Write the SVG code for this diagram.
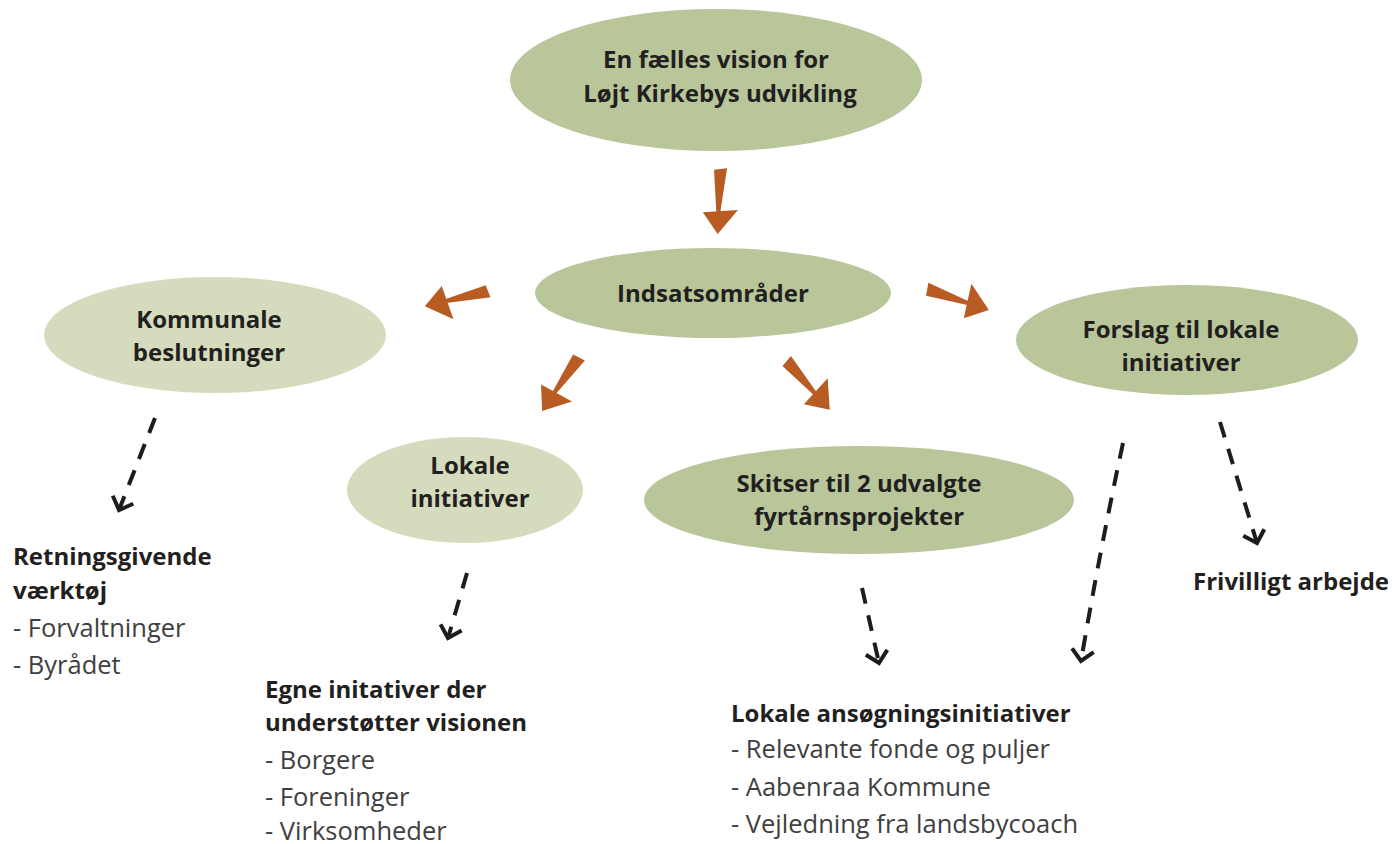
<svg xmlns="http://www.w3.org/2000/svg" width="1396" height="844" viewBox="0 0 1396 844">
<style>
  .dark { fill: #b8c69a; }
  .light { fill: #d5dcbe; }
  .t { font-family: "Open Sans", "Noto Sans", sans-serif; font-size: 24px; fill: #231f20; }
  .b { font-weight: 700; }
  .r { font-weight: 400; fill: #404040; font-size: 25.5px; }
  .c { text-anchor: middle; }
  .orange { fill: #b85c24; }
  .dash { fill: none; stroke: #1e1c1c; stroke-width: 4; stroke-dasharray: 16 12; marker-end: url(#chev); }
</style>
<defs>
  <marker id="chev" markerUnits="userSpaceOnUse" markerWidth="30" markerHeight="30" viewBox="-15 -15 30 30" refX="0" refY="0" orient="auto">
    <path d="M-11,-11 L0,0 L-11,11" fill="none" stroke="#1e1c1c" stroke-width="4"/>
  </marker>
  <path id="oarrow" d="M-6,0 L7,-2 L2.5,42 L-1.5,42 Z M-15,43 L20,39 L1,64 Z"/>
</defs>
<rect width="1396" height="844" fill="#ffffff"/>

<g id="connectors">
  <use href="#oarrow" class="orange" transform="translate(720,170) rotate(3)"/>
  <use href="#oarrow" class="orange" transform="translate(487,291) rotate(77)"/>
  <use href="#oarrow" class="orange" transform="translate(928,290) rotate(-71)"/>
  <use href="#oarrow" class="orange" transform="translate(578,358) rotate(35)"/>
  <use href="#oarrow" class="orange" transform="translate(787,362) rotate(-41)"/>
  <path class="dash" d="M155,418 L119,510"/>
  <path class="dash" d="M467,573 L448,638"/>
  <path class="dash" d="M862,588 L879,663"/>
  <path class="dash" d="M1123,443 Q1100,550 1081,661"/>
  <path class="dash" d="M1220,422 L1257,543"/>
</g>

<g id="vision">
  <ellipse class="dark" cx="716" cy="80" rx="206" ry="71"/>
  <text class="t b c" x="716" y="68">En fælles vision for</text>
  <text class="t b c" x="720" y="102">Løjt Kirkebys udvikling</text>
</g>
<g id="indsats">
  <ellipse class="dark" cx="713" cy="293" rx="178" ry="45"/>
  <text class="t b c" x="713" y="302">Indsatsområder</text>
</g>
<g id="kommunale">
  <ellipse class="light" cx="215" cy="335" rx="171" ry="58"/>
  <text class="t b c" x="209" y="328">Kommunale</text>
  <text class="t b c" x="209" y="361">beslutninger</text>
</g>
<g id="forslag">
  <ellipse class="dark" cx="1187" cy="340" rx="171" ry="55"/>
  <text class="t b c" x="1181" y="338">Forslag til lokale</text>
  <text class="t b c" x="1181" y="371">initiativer</text>
</g>
<g id="lokale">
  <ellipse class="light" cx="465" cy="490" rx="118" ry="53"/>
  <text class="t b c" x="470" y="474">Lokale</text>
  <text class="t b c" x="470" y="507">initiativer</text>
</g>
<g id="skitser">
  <ellipse class="dark" cx="859" cy="500" rx="215" ry="54"/>
  <text class="t b c" x="859" y="492">Skitser til 2 udvalgte</text>
  <text class="t b c" x="859" y="525">fyrtårnsprojekter</text>
</g>

<g id="retning">
  <text class="t b" x="13" y="565">Retningsgivende</text>
  <text class="t b" x="13" y="599">værktøj</text>
  <text class="t r" x="13" y="637">- Forvaltninger</text>
  <text class="t r" x="13" y="674">- Byrådet</text>
</g>
<g id="egne">
  <text class="t b" x="265" y="698">Egne initativer der</text>
  <text class="t b" x="265" y="731">understøtter visionen</text>
  <text class="t r" x="265" y="769">- Borgere</text>
  <text class="t r" x="265" y="806">- Foreninger</text>
  <text class="t r" x="265" y="840">- Virksomheder</text>
</g>
<g id="ansoegning">
  <text class="t b" x="731" y="722">Lokale ansøgningsinitiativer</text>
  <text class="t r" x="731" y="758">- Relevante fonde og puljer</text>
  <text class="t r" x="731" y="796">- Aabenraa Kommune</text>
  <text class="t r" x="731" y="833">- Vejledning fra landsbycoach</text>
</g>
<g id="frivilligt">
  <text class="t b" x="1193" y="590">Frivilligt arbejde</text>
</g>
</svg>
